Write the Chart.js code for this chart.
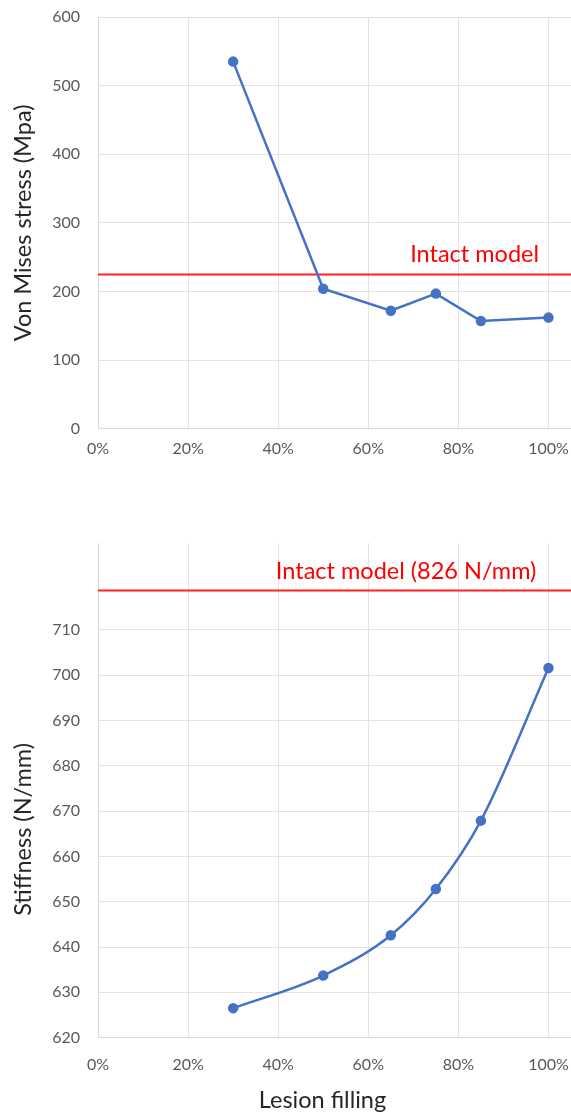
<!DOCTYPE html>
<html>
<head>
<meta charset="utf-8">
<script src="https://cdn.jsdelivr.net/npm/chart.js@4"></script>
<style>
  html, body { margin: 0; padding: 0; background: #fff; overflow: hidden; }
  .box { position: absolute; left: 0; width: 571px; }
</style>
</head>
<body>
<div class="box" style="top:0;height:470px"><canvas id="stress"></canvas></div>
<div class="box" style="top:470px;height:645px"><canvas id="stiffness"></canvas></div>
<script>
// data
const fillLevels = [0.30, 0.50, 0.65, 0.75, 0.85, 1.00];
const stressValues = [535, 204, 172, 197, 157, 162];
const stiffnessValues = [626.5, 633.7, 642.6, 652.8, 667.9, 701.6];
const intactStress = 225;
const intactStiffness = 718.7; // drawn above a broken axis, real value 826
const xTicks = [0, 0.2, 0.4, 0.6, 0.8, 1.0];
const stressTicks = [0, 100, 200, 300, 400, 500, 600];
const stiffnessTicks = [620, 630, 640, 650, 660, 670, 680, 690, 700, 710];

const blue = '#4472c4';
const red = '#ff2020';
const gridColor = '#e3e3e3';

Chart.defaults.font.family = 'Lato, "Open Sans", sans-serif';
Chart.defaults.animation = false;

// writes the "Intact model" text just above the red line
const intactLabel = {
    id: 'intactLabel',
    afterDatasetsDraw(chart, args, o) {
        const ctx = chart.ctx;
        const x = chart.scales.x.getPixelForValue(o.x);
        const y = chart.scales.y.getPixelForValue(o.y);
        ctx.save();
        ctx.font = '23.5px Lato';
        ctx.fillStyle = '#ff0000';
        ctx.textAlign = 'center';
        ctx.textBaseline = 'middle';
        ctx.fillText(o.text, x, y - o.gap);
        ctx.restore();
    }
};

// no extra room for half tick labels, the plot runs to the edges
function noEdgePadding(s) {
    s.paddingLeft = 0;
    s.paddingRight = 0;
    s.paddingTop = 0;
    s.paddingBottom = 0;
}

function makeChart(id, values, intact, yCfg, label, xTitle, pad) {
    const points = fillLevels.map((f, i) => ({ x: f, y: values[i] }));
    return new Chart(document.getElementById(id), {
        type: 'scatter',
        data: {
            datasets: [{
                data: points,
                showLine: true,
                borderColor: blue,
                backgroundColor: blue,
                borderWidth: 2.5,
                pointRadius: 4,
                cubicInterpolationMode: yCfg.smooth ? 'monotone' : 'default'
            }, {
                data: [{ x: 0, y: intact }, { x: 1.05, y: intact }],
                showLine: true,
                borderColor: red,
                borderWidth: 2,
                pointRadius: 0
            }]
        },
        options: {
            responsive: true,
            maintainAspectRatio: false,
            layout: { padding: pad, autoPadding: false },
            plugins: {
                legend: { display: false },
                tooltip: { enabled: false },
                intactLabel: label
            },
            scales: {
                x: {
                    type: 'linear',
                    min: 0,
                    max: 1.05,
                    afterBuildTicks: s => { s.ticks = xTicks.map(v => ({ value: v })); },
                    afterFit: noEdgePadding,
                    grid: { color: gridColor, drawTicks: false },
                    border: { color: '#d9d9d9' },
                    ticks: {
                        padding: yCfg.xPad,
                        color: '#595959',
                        font: { size: 16 },
                        callback: v => Math.round(v * 100) + '%'
                    },
                    title: xTitle
                },
                y: {
                    min: yCfg.min,
                    max: yCfg.max,
                    afterBuildTicks: s => { s.ticks = yCfg.ticks.map(v => ({ value: v })); },
                    afterFit: s => { noEdgePadding(s); s.width = 98; },
                    grid: { color: gridColor, drawTicks: false },
                    border: { color: '#d9d9d9' },
                    ticks: { padding: 18, color: '#595959', font: { size: 16 } },
                    title: {
                        display: true,
                        text: yCfg.title,
                        color: '#262626',
                        font: { size: 23.5 },
                        padding: { top: 9, bottom: 0 }
                    }
                }
            }
        },
        plugins: [intactLabel]
    });
}

makeChart('stress', stressValues, intactStress,
    { min: 0, max: 600, ticks: stressTicks, title: 'Von Mises stress (Mpa)', xPad: 10, smooth: false },
    { text: 'Intact model', x: 0.836, y: intactStress, gap: 20 },
    { display: false },
    { top: 17, right: 0, bottom: 2, left: 0 });

// titles below sit off-centre in the original, trailing spaces nudge them
makeChart('stiffness', stiffnessValues, intactStiffness,
    { min: 620, max: 729.2, ticks: stiffnessTicks, title: 'Stiffness (N/mm)' + ' '.repeat(13), xPad: 18, smooth: true },
    { text: 'Intact model (826 N/mm)', x: 0.684, y: intactStiffness, gap: 19 },
    { display: true, text: 'Lesion filling' + ' '.repeat(4), color: '#262626', font: { size: 23.5 }, padding: { top: -6, bottom: 0 } },
    { top: 73, right: 0, bottom: 0, left: 0 });
</script>
</body>
</html>
